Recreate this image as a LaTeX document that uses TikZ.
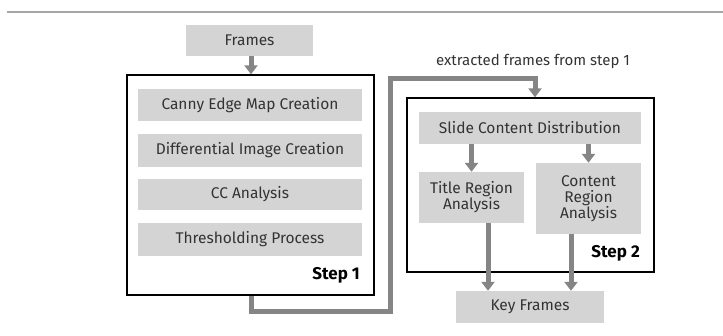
\documentclass[tikz,border=0pt]{standalone}
\usepackage{fontspec}
\setmainfont{Fira Sans}
\usetikzlibrary{arrows.meta}
\definecolor{boxgray}{HTML}{D4D4D4}
\definecolor{arrgray}{HTML}{858585}
\definecolor{txtgray}{HTML}{333333}
\tikzset{
  procbox/.style={fill=boxgray, draw=none, text=txtgray, font=\fontsize{15.5}{16}\selectfont, align=center, inner sep=0pt},
  stepframe/.style={draw=black, line width=1.3pt, fill=white, inner sep=0pt},
  steplabel/.style={font=\fontsize{17}{19}\selectfont\bfseries, text=black, anchor=east, inner sep=0pt},
  flow/.style={draw=arrgray, line width=5pt, -{Triangle[width=13pt,length=9pt]}},
}
\begin{document}
\begin{tikzpicture}[x=1pt,y=-1pt]
\useasboundingbox (0,0) rectangle (723,336);
\draw[draw=gray!70, line width=1.5pt] (7,12) -- (723,12);

\node[procbox, minimum width=127pt, minimum height=31pt] (frames) at (249.5,40.5) {Frames};
\node[stepframe, minimum width=247pt, minimum height=220pt] (step1) at (250.5,185) {};
\node[procbox, minimum width=224pt, minimum height=32pt] (canny) at (250,105) {Canny Edge Map Creation};
\node[procbox, minimum width=224pt, minimum height=33pt] (diff) at (250,150.5) {Differential Image Creation};
\node[procbox, minimum width=224pt, minimum height=31pt] (cc) at (250,194.5) {CC Analysis};
\node[procbox, minimum width=224pt, minimum height=33pt] (thr) at (250,239.5) {Thresholding Process};
\node[steplabel] (s1lab) at (360,275) {Step 1};

\node[stepframe, minimum width=247pt, minimum height=174pt] (step2) at (530.5,185) {};
\node[procbox, minimum width=222pt, minimum height=32pt] (scd) at (530,128) {Slide Content Distribution};
\node[procbox, minimum width=105pt, minimum height=51pt] (title) at (471.5,197.5) {Title Region\\Analysis};
\node[procbox, minimum width=105pt, minimum height=71pt] (content) at (588.5,198.5) {Content\\Region\\Analysis};
\node[steplabel] (s2lab) at (640,253) {Step 2};
\node[procbox, minimum width=148pt, minimum height=32pt] (kf) at (530,307) {Key Frames};

\node[font=\fontsize{15}{17}\selectfont, text=txtgray, inner sep=0pt] (extr) at (533,61) {extracted frames from step 1};

\coordinate (c1) at (251,312);
\coordinate (c2) at (390,312);
\coordinate (c3) at (390,79);
\coordinate (c4) at (535,79);
\coordinate (t1) at (488,0);
\coordinate (t2) at (571,0);

\draw[flow] (frames.south -| c1) -- (c1 |- step1.north);
\draw[flow] (step1.south -| c1) -- (c1) -- (c2) -- (c3) -- (c4) -- (c4 |- step2.north);
\draw[flow] (scd.south -| title) -- (title.north);
\draw[flow] (scd.south -| content) -- (content.north);
\draw[flow] (title.south -| t1) -- (kf.north -| t1);
\draw[flow] (content.south -| t2) -- (kf.north -| t2);
\end{tikzpicture}
\end{document}
